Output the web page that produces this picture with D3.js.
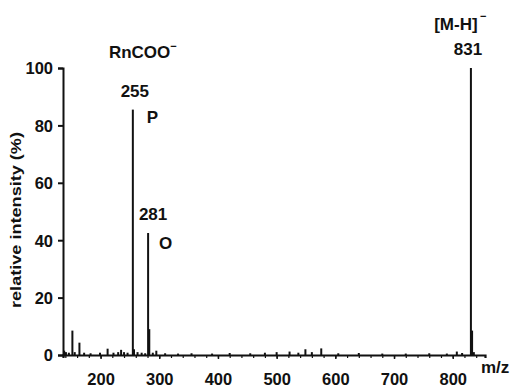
<!DOCTYPE html>
<html>
<head>
<meta charset="utf-8">
<script src="https://cdn.jsdelivr.net/npm/d3@7"></script>
<style>
  body { margin: 0; background: #fff; }
  svg { display: block; }
  text { font-family: "Liberation Sans", Arial, Helvetica, sans-serif; font-weight: bold; fill: #111; }
</style>
</head>
<body>
<div id="chart"></div>
<script>
// peak list (m/z, relative intensity %)
var mzValues = [138, 141, 146, 152, 156, 164, 172, 183, 199, 212, 222, 230, 235, 240, 246,
  255, 257, 263, 270, 276, 281, 283, 289, 295, 310, 332, 355, 390, 420, 455, 480, 500,
  522, 537, 549, 560, 576, 605, 640, 680, 720, 760, 790, 807, 816, 831, 833, 836];
var intensities = [1.5, 1, 0.8, 8.5, 1, 4.3, 0.8, 0.6, 0.8, 2.2, 0.8, 1, 1.8, 1, 0.8,
  85.5, 2, 1, 0.8, 0.6, 42.5, 9, 0.8, 1.5, 0.6, 0.5, 0.6, 0.5, 0.7, 0.6, 0.8, 1,
  1.2, 0.8, 2, 1, 2.3, 0.6, 0.7, 0.5, 0.5, 0.6, 0.5, 1.2, 0.7, 100, 8.5, 1];

var xTicks = [200, 300, 400, 500, 600, 700, 800];
var yTicks = [0, 20, 40, 60, 80, 100];

var width = 512, height = 387;

var svg = d3.select("#chart").append("svg")
  .attr("width", width)
  .attr("height", height);

var x = d3.scaleLinear().domain([136, 855]).range([63, 485]);
var y = d3.scaleLinear().domain([0, 100]).range([355, 68]);

// y axis
var yAxis = svg.append("g")
  .attr("transform", "translate(" + x(136) + ",0)")
  .call(d3.axisLeft(y).tickValues(yTicks).tickSize(5).tickPadding(5));
yAxis.select(".domain").attr("stroke", "#111").attr("stroke-width", 2);
yAxis.selectAll(".tick line").attr("stroke", "#111").attr("stroke-width", 2);
yAxis.selectAll(".tick text").style("font-size", "16.5px").attr("dy", "0.36em");

// x axis: minor ticks every 20
var xAxisMinor = svg.append("g")
  .attr("transform", "translate(0," + y(0) + ")")
  .call(d3.axisBottom(x).tickValues(d3.range(140, 851, 20)).tickSize(3).tickFormat(""));
xAxisMinor.select(".domain").attr("stroke", "#111").attr("stroke-width", 2.2);
xAxisMinor.selectAll(".tick line").attr("stroke", "#111").attr("stroke-width", 1.2);

var xAxis = svg.append("g")
  .attr("transform", "translate(0," + y(0) + ")")
  .call(d3.axisBottom(x).tickValues(xTicks).tickSize(4).tickPadding(14));
xAxis.select(".domain").remove();
xAxis.selectAll(".tick line").attr("stroke", "#111").attr("stroke-width", 1.5);
xAxis.selectAll(".tick text").style("font-size", "16.5px");

// sticks
svg.append("g")
  .selectAll("line")
  .data(mzValues)
  .enter().append("line")
  .attr("x1", function (d) { return x(d); })
  .attr("x2", function (d) { return x(d); })
  .attr("y1", y(0))
  .attr("y2", function (d, i) { return y(intensities[i]); })
  .attr("stroke", "#111")
  .attr("stroke-width", 2);

// axis titles
svg.append("text")
  .attr("transform", "translate(21," + 220 + ") rotate(-90)")
  .attr("text-anchor", "middle")
  .style("font-size", "15px")
  .attr("textLength", 176)
  .attr("lengthAdjust", "spacingAndGlyphs")
  .text("relative intensity (%)");

svg.append("text")
  .attr("x", 481)
  .attr("y", 373)
  .style("font-size", "17px")
  .text("m/z");

// peak annotations
function label(txt, px, py, anchor, size) {
  return svg.append("text")
    .attr("x", px)
    .attr("y", py)
    .attr("text-anchor", anchor || "middle")
    .style("font-size", (size || 17) + "px")
    .text(txt);
}

var rn = label("RnCOO", x(255) + 10, 58, "middle", 17);
rn.append("tspan").attr("dy", -8).style("font-size", "11px").text("−");
label("255", x(255) + 2, y(85.5) - 13);
label("P", x(255) + 14, y(85.5) + 13, "start");
label("281", x(281) + 5, y(42.5) - 13);
label("O", x(281) + 11, y(42.5) + 16, "start");
label("[M-H]", x(831) - 15, 30, "middle", 17);
label("−", x(831) + 9, 20, "start", 11);
label("831", x(831) - 3, y(100) - 13);
</script>
</body>
</html>
